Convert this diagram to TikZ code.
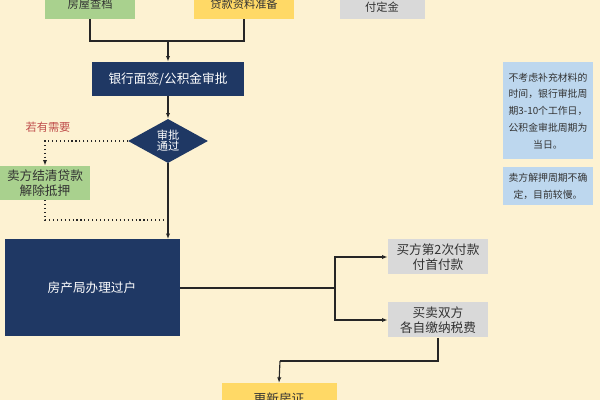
\documentclass[tikz,border=0pt]{standalone}
\usepackage{fontspec}
\setmainfont{Noto Sans CJK SC}
\usetikzlibrary{shapes.geometric,arrows.meta}
\definecolor{bg}{HTML}{FDF2D2}
\definecolor{navy}{HTML}{1F3864}
\definecolor{gbox}{HTML}{A9D18E}
\definecolor{ybox}{HTML}{FFD966}
\definecolor{grbox}{HTML}{D9D9D9}
\definecolor{bbox}{HTML}{BDD7EE}
\definecolor{redt}{HTML}{C0504D}
\tikzset{
 bx/.style={inner sep=0pt,align=center,font=\fontsize{8}{10}\selectfont,text=black!80},
 dk/.style={bx,fill=navy,text=white},
 ln/.style={line width=0.8pt,draw=black!85},
 ar/.style={ln,-{Latex[length=4pt,width=3pt]}},
 dt/.style={ln,dotted,line width=1pt}
}
\begin{document}
\begin{tikzpicture}[x=0.025cm,y=-0.025cm]
\fill[bg] (0,0) rectangle (600,400);
\clip (0,0) rectangle (600,400);
\useasboundingbox (0,0) rectangle (600,400);
% top boxes
\node[bx,fill=gbox,minimum width=90*0.025cm,minimum height=30*0.025cm] (g1) at (90,4) {房屋查档};
\node[bx,fill=ybox,minimum width=100*0.025cm,minimum height=30*0.025cm] (y1) at (244,4) {贷款资料准备};
\node[bx,fill=grbox,minimum width=85*0.025cm,minimum height=38*0.025cm] (gr0) at (382,0) {买方第1次付款\\付定金};
\coordinate (j1) at (168,41);
\draw[ln] (g1.south) |- (j1) -| (y1.south);
\node[dk,minimum width=152*0.025cm,minimum height=34*0.025cm,font=\fontsize{9}{11}\selectfont] (bank) at (168,79) {银行面签/公积金审批};
\draw[ar] (j1) -- (bank.north);
\node[diamond,fill=navy,text=white,inner sep=0pt,minimum width=80*0.025cm,minimum height=44*0.025cm,align=center,font=\fontsize{8}{10}\selectfont] (dia) at (168,141) {审批\\[-2pt]通过};
\draw[ar] (bank.south) -- (dia.north);
\node[font=\fontsize{8}{10}\selectfont,text=redt] (need) at (48,127) {若有需要};
\node[bx,fill=gbox,minimum width=90*0.025cm,minimum height=34*0.025cm,font=\fontsize{9}{11}\selectfont] (sell) at (45,183) {卖方结清贷款\\解除抵押};
\draw[dt,-{Latex[length=4pt,width=3pt]}] (dia.west) -| (sell.north);
\coordinate (j2) at (168,220);
\draw[dt] (sell.south) |- (j2);
\node[dk,minimum width=175*0.025cm,minimum height=97*0.025cm,font=\fontsize{9}{11}\selectfont] (fc) at (92,288) {房产局办理过户};
\draw[ar] (dia.south) -- (dia.south |- fc.north);
\node[bx,fill=grbox,minimum width=100*0.025cm,minimum height=35*0.025cm,font=\fontsize{9}{11}\selectfont] (p2) at (438,257) {买方第2次付款\\付首付款};
\node[bx,fill=grbox,minimum width=100*0.025cm,minimum height=35*0.025cm,font=\fontsize{9}{11}\selectfont] (tax) at (438,320) {买卖双方\\各自缴纳税费};
\coordinate (j3) at (335,288);
\draw[ln] (fc.east) -- (j3);
\draw[ar] (j3) |- (p2.west);
\draw[ar] (j3) |- (tax.west);
\node[bx,fill=ybox,minimum width=115*0.025cm,minimum height=30*0.025cm,font=\fontsize{9}{11}\selectfont,anchor=north] (cert) at (279,383) {\raisebox{-3pt}{更新房证}};
\coordinate (j4) at (280,361);
\draw[ln] (tax.south) |- (j4);
\draw[ar] (j4) -- (cert.north);
% notes
\node[bx,fill=bbox,minimum width=90*0.025cm,minimum height=97*0.025cm,font=\fontsize{7}{12}\selectfont] (n1) at (548,111) {不考虑补充材料的\\时间，银行审批周\\期3-10个工作日，\\公积金审批周期为\\当日。};
\node[bx,fill=bbox,minimum width=90*0.025cm,minimum height=38*0.025cm,font=\fontsize{7}{12}\selectfont] (n2) at (548,186) {卖方解押周期不确\\定，目前较慢。};
\end{tikzpicture}
\end{document}
